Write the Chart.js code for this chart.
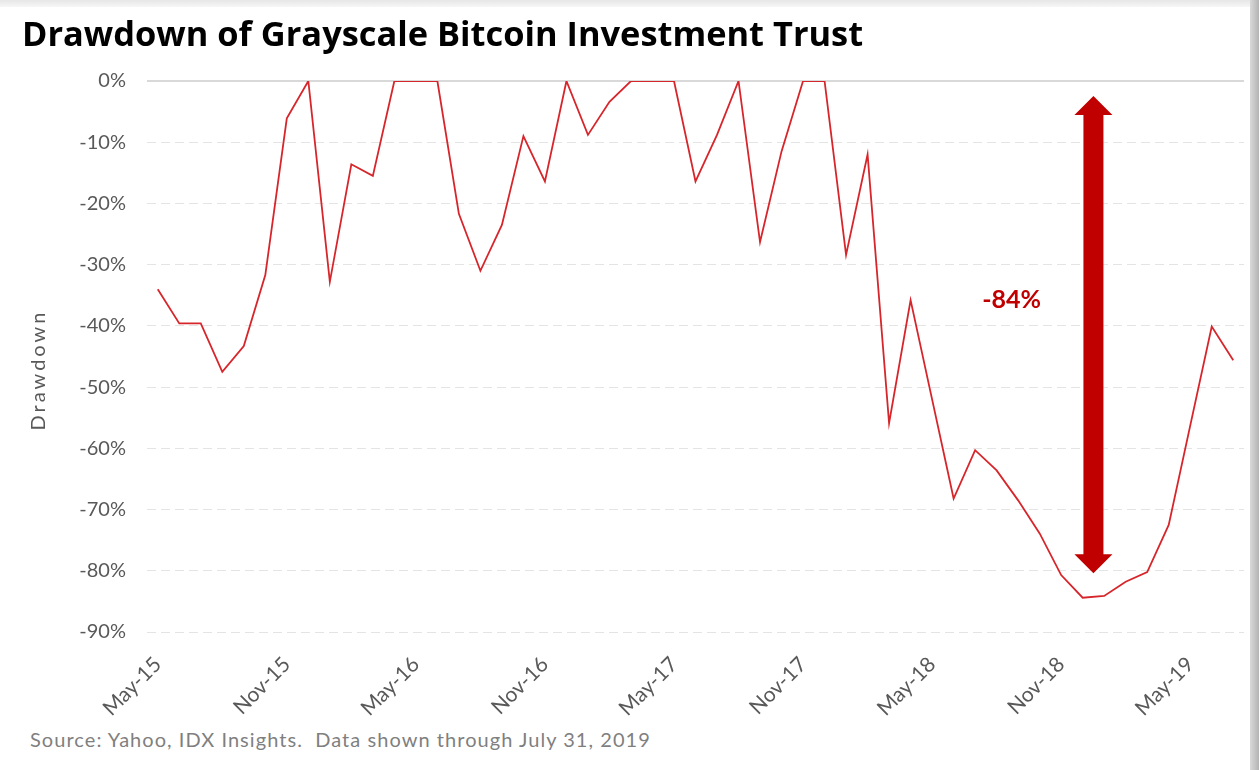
<!DOCTYPE html>
<html>
<head>
<meta charset="utf-8">
<script src="https://cdn.jsdelivr.net/npm/chart.js@4.4.0/dist/chart.umd.min.js"></script>
<style>
  html, body { margin: 0; padding: 0; }
  body { width: 1259px; height: 770px; overflow: hidden; background: #fff; position: relative; }
  #topShade { position: absolute; left: 0; top: 0; width: 1250px; height: 7px; background: linear-gradient(to bottom, #e6e6e6, #f7f7f7); }
  #rightShade { position: absolute; left: 1250px; top: 0; width: 9px; height: 770px; background: linear-gradient(to right, #d9d9d9, #b4b4b4); }
  #title { position: absolute; left: 22px; top: 9px; font-family: "Open Sans", sans-serif; font-weight: 700; font-size: 34.4px; color: #000; white-space: nowrap; }
  #source { position: absolute; left: 30px; top: 727px; font-family: Lato, sans-serif; font-size: 20px; letter-spacing: 1.05px; color: #7f7f7f; white-space: nowrap; }
  #chart { position: absolute; left: 0; top: 0; }
</style>
</head>
<body>
<div id="topShade"></div>
<div id="rightShade"></div>
<canvas id="chart" width="1250" height="720"></canvas>
<div id="title">Drawdown of Grayscale Bitcoin Investment Trust</div>
<div id="source">Source: Yahoo, IDX Insights.&nbsp; Data shown through July 31, 2019</div>
<script>
  // month labels, May-15 .. Jul-19
  const monthNames = ["Jan","Feb","Mar","Apr","May","Jun","Jul","Aug","Sep","Oct","Nov","Dec"];
  const labels = [];
  for (let y = 2015, m = 4; y < 2019 || (y === 2019 && m <= 6); m++) {
    if (m === 12) { m = 0; y++; }
    labels.push(monthNames[m] + "-" + String(y).slice(2));
  }

  // drawdown in %
  const drawdown = [
    -34.0, -39.6, -39.6, -47.5, -43.3, -31.7, -6.1, 0, -32.8, -13.6,
    -15.5, 0, 0, 0, -21.7, -31.0, -23.5, -9.0, -16.4, 0,
    -8.8, -3.4, 0, 0, 0, -16.4, -8.8, 0, -26.3, -11.5,
    0, 0, -28.4, -12.0, -55.9, -35.8, -52.0, -68.2, -60.3, -63.6,
    -68.5, -73.9, -80.7, -84.4, -84.1, -81.8, -80.2, -72.5, -56.3, -40.1,
    -45.6
  ];

  const yTicks = [0, -10, -20, -30, -40, -50, -60, -70, -80, -90];
  const yTitle = "Drawdown";

  // the -84% arrow and its label (index on x, % on y)
  const arrowAt = 43.5;
  const arrowTop = -2.45;
  const arrowBottom = -80.4;
  const noteText = "-84%";
  const noteAt = [39.7, -35.8];

  const red = "#c00000";
  const axisGray = "#595959";

  const arrowPlugin = {
    id: "arrow",
    afterDatasetsDraw(chart) {
      const ctx = chart.ctx;
      const xs = chart.scales.x, ys = chart.scales.y;
      const x = xs.getPixelForValue(arrowAt);
      const top = ys.getPixelForValue(arrowTop);
      const bot = ys.getPixelForValue(arrowBottom);
      const shaft = 10, head = 19, headLen = 19;
      ctx.save();
      ctx.fillStyle = red;
      ctx.beginPath();
      ctx.moveTo(x, top);
      ctx.lineTo(x + head, top + headLen);
      ctx.lineTo(x + shaft, top + headLen);
      ctx.lineTo(x + shaft, bot - headLen);
      ctx.lineTo(x + head, bot - headLen);
      ctx.lineTo(x, bot);
      ctx.lineTo(x - head, bot - headLen);
      ctx.lineTo(x - shaft, bot - headLen);
      ctx.lineTo(x - shaft, top + headLen);
      ctx.lineTo(x - head, top + headLen);
      ctx.closePath();
      ctx.fill();

      ctx.font = "bold 25px Lato, sans-serif";
      ctx.textAlign = "center";
      ctx.textBaseline = "middle";
      ctx.fillText(noteText, xs.getPixelForValue(noteAt[0]), ys.getPixelForValue(noteAt[1]));

      // y axis title, spaced out like the original
      const ca = chart.chartArea;
      ctx.translate(39, (ca.top + ca.bottom) / 2 + 15);
      ctx.rotate(-Math.PI / 2);
      ctx.fillStyle = axisGray;
      ctx.font = "20px Lato, sans-serif";
      ctx.letterSpacing = "3px";
      ctx.fillText(yTitle, 1.5, 0);
      ctx.restore();
    }
  };

  new Chart(document.getElementById("chart"), {
    type: "line",
    data: {
      labels: labels,
      datasets: [{
        data: drawdown,
        borderColor: "#d7262b",
        borderWidth: 1.8,
        pointRadius: 0,
        tension: 0,
        fill: false
      }]
    },
    options: {
      responsive: false,
      animation: false,
      devicePixelRatio: 1,
      layout: { padding: { top: 81, right: 6, left: 0, bottom: 0 } },
      plugins: { legend: { display: false }, tooltip: { enabled: false } },
      scales: {
        x: {
          type: "category",
          offset: true,
          grid: { display: false },
          border: { display: false },
          ticks: {
            autoSkip: false,
            minRotation: 45,
            maxRotation: 45,
            padding: 12,
            color: axisGray,
            font: { family: "Lato, sans-serif", size: 21 },
            callback: (v, i) => (i % 6 === 0 ? labels[i] : "")
          },
          afterFit(scale) {
            scale.height = 88;
            scale.paddingLeft = 0;
            scale.paddingRight = 0;
          }
        },
        y: {
          min: -90,
          max: 0,
          afterBuildTicks(scale) { scale.ticks = yTicks.map(v => ({ value: v })); },
          grid: {
            drawTicks: false,
            color: ctx => (ctx.tick && ctx.tick.value === 0 ? "#d9d9d9" : "#e4e4e4"),
            lineWidth: ctx => (ctx.tick && ctx.tick.value === 0 ? 2 : 1)
          },
          border: {
            display: false,
            dash: ctx => (ctx.tick && ctx.tick.value === 0 ? [] : [9, 5])
          },
          ticks: {
            padding: 21,
            color: axisGray,
            font: { family: "Lato, sans-serif", size: 20 },
            callback: v => v + "%"
          },
          afterFit(scale) { scale.width = 147; }
        }
      }
    },
    plugins: [arrowPlugin]
  });
</script>
</body>
</html>
